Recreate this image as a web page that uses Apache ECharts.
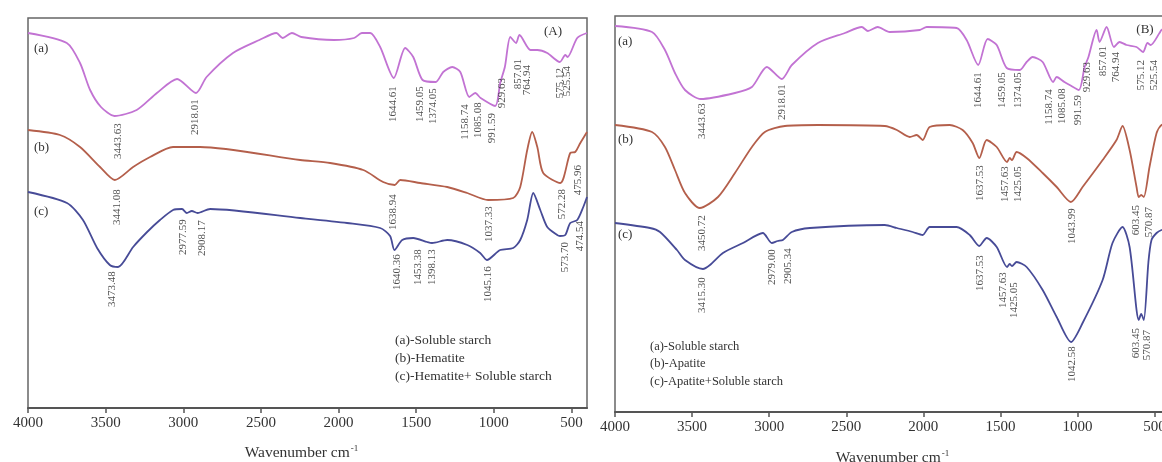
<!DOCTYPE html>
<html>
<head>
<meta charset="utf-8">
<script src="https://cdn.jsdelivr.net/npm/echarts@6/dist/echarts.min.js"></script>
<style>
  html, body { margin: 0; padding: 0; background: #fff; }
  #chart { width: 1162px; height: 462px; }
</style>
</head>
<body>
<div id="chart"></div>
<script>
// FTIR spectra, transmittance in arbitrary units, [wavenumber, value]
const starchA = [[4000,375],[3750,365],[3665,345],[3600,318],[3530,301],[3443,292],[3300,298],[3170,315],[3040,329],[2918,315],[2850,331],[2680,355],[2510,368],[2400,375],[2360,370],[2300,375],[2240,371],[2030,368],[1900,370],[1850,375],[1796,375],[1732,361],[1644,330],[1571,360],[1519,351],[1459,328],[1374,326],[1326,336],[1268,341],[1216,336],[1158,311],[1120,315],[1085,310],[991,302],[959,325],[929,341],[894,371],[857,365],[835,373],[764,358],[720,358],[656,355],[575,346],[540,353],[525,351],[463,370],[400,375]];
const hematite = [[4000,278],[3794,273],[3665,261],[3536,241],[3441,228],[3323,241],[3214,251],[3066,261],[2892,261],[2247,248],[2054,245],[1841,238],[1713,226],[1638,223],[1603,228],[1474,225],[1300,221],[1171,215],[1037,208],[875,210],[830,221],[785,258],[753,276],[720,261],[682,235],[572,225],[508,255],[476,256],[443,265],[400,276]];
const hematiteStarch = [[4000,216],[3749,205],[3646,188],[3555,160],[3473,143],[3420,141],[3323,161],[3233,176],[3150,188],[3066,198],[3008,199],[2977,195],[2945,197],[2908,195],[2827,199],[2247,190],[1945,185],[1732,180],[1668,172],[1640,158],[1590,168],[1519,170],[1429,166],[1398,165],[1300,168],[1171,163],[1088,155],[1045,148],[959,158],[875,160],[830,168],[785,188],[746,215],[701,198],[656,181],[592,173],[574,172],[540,173],[508,185],[463,188],[424,201],[400,211]];

const starchB = [[4000,386],[3760,380],[3676,362],[3611,339],[3546,322],[3443,313],[3222,319],[3112,325],[3015,345],[2918,333],[2853,347],[2684,369],[2509,379],[2399,385],[2360,381],[2296,385],[2218,380],[2023,382],[1978,385],[1784,384],[1719,372],[1644,347],[1583,373],[1524,367],[1459,344],[1374,342],[1330,350],[1291,355],[1226,350],[1158,330],[1135,335],[1085,330],[1051,327],[991,322],[954,345],[929,355],[876,382],[857,370],[811,385],[764,365],[727,370],[682,367],[617,365],[575,360],[546,369],[525,367],[468,379],[455,382],[400,388]];
const apatite = [[4000,287],[3760,280],[3676,265],[3611,242],[3546,219],[3450,204],[3332,215],[3222,239],[3112,265],[3028,280],[2898,286],[2684,287],[2250,286],[2172,282],[2088,275],[2043,277],[2004,272],[1959,285],[1829,287],[1745,282],[1680,269],[1637,254],[1589,272],[1524,265],[1457,250],[1440,254],[1425,252],[1395,260],[1330,254],[1226,239],[1135,225],[1043,210],[967,225],[837,252],[747,272],[708,286],[662,262],[617,225],[603,215],[587,217],[570,215],[533,245],[487,279],[455,287],[400,289]];
const apatiteStarch = [[4000,189],[3773,184],[3708,180],[3598,162],[3546,152],[3430,143],[3384,147],[3300,159],[3170,169],[3041,179],[2983,169],[2945,171],[2911,172],[2853,180],[2736,184],[2250,187],[2172,184],[2069,180],[2004,177],[1959,185],[1784,185],[1699,177],[1637,166],[1589,174],[1524,165],[1457,145],[1440,148],[1425,146],[1395,150],[1330,145],[1226,122],[1135,95],[1042,70],[967,89],[837,132],[773,169],[708,185],[662,165],[617,102],[603,92],[587,98],[570,92],[540,150],[520,172],[487,179],[455,182],[400,184]];

// peak labels: [text, wavenumber, value]
const peaksLeft = [
  ['3443.63',3420,267],['2918.01',2924,291],['1644.61',1648,304],['1459.05',1474,304],['1374.05',1390,302],
  ['1158.74',1184,286],['1085.08',1101,288],['991.59',1010,280],['929.63',946,315],['857.01',843,334],
  ['764.94',785,328],['575.12',572,325],['525.54',527,327],
  ['3441.08',3427,201],['1638.94',1648,196],['1037.33',1030,184],['572.28',559,204],['475.96',456,228],
  ['3473.48',3459,119],['2977.59',3001,171],['2908.17',2879,170],['1640.36',1622,136],['1453.38',1487,141],
  ['1398.13',1397,141],['1045.16',1036,124],['573.70',541,151],['474.54',443,172]
];
const peaksRight = [
  ['3443.63',3436,291],['2918.01',2918,310],['1644.61',1647,322],['1459.05',1492,322],['1374.05',1388,322],
  ['1158.74',1181,305],['1085.08',1097,306],['991.59',999,302],['929.63',935,335],['857.01',837,351],
  ['764.94',747,345],['575.12',585,337],['525.54',500,337],
  ['3450.72',3436,179],['1637.53',1634,229],['1457.63',1472,228],['1425.05',1388,228],['1043.99',1038,186],
  ['603.45',617,192],['570.87',533,190],
  ['3415.30',3436,117],['2979.00',2983,145],['2905.34',2879,146],['1637.53',1634,139],['1457.63',1485,122],
  ['1425.05',1408,112],['1042.58',1038,48],['603.45',617,69],['570.87',546,67]
];
const tickVals = [500,1000,1500,2000,2500,3000,3500,4000];

const colA = '#c273d3', colB = '#b45f4b', colC = '#474b97';
const serif = '"Liberation Serif", "DejaVu Serif", serif';

function xAx(idx, padRight, gap) {
  return {
    gridIndex: idx, type: 'value', inverse: true, min: 400, max: 4000,
    axisLine: { lineStyle: { color: '#555', width: 2 } },
    axisTick: { show: true, length: 5, customValues: tickVals, lineStyle: { color: '#555', width: 1.5 } },
    axisLabel: { customValues: tickVals, formatter: v => String(v), color: '#333', fontSize: 15, fontFamily: serif, margin: 8 },
    splitLine: { show: false },
    name: '{n|Wavenumber cm}{s|-1}', nameLocation: 'middle', nameGap: gap,
    nameTextStyle: { padding: [0, padRight, 0, 0],
      rich: { n: { fontSize: 15.5, fontFamily: serif, color: '#333' },
              s: { fontSize: 9, fontFamily: serif, color: '#333', verticalAlign: 'top', padding: [0, 0, 8, 1] } } }
  };
}
function yAx(idx, max) {
  return { gridIndex: idx, type: 'value', min: 0, max: max, show: false };
}
function line(data, color, idx) {
  return { type: 'line', xAxisIndex: idx, yAxisIndex: idx, data: data, showSymbol: false,
    smooth: 0.25, lineStyle: { color: color, width: 1.8 }, silent: true, z: 2 };
}
function peaks(list, idx) {
  return { type: 'scatter', xAxisIndex: idx, yAxisIndex: idx, symbolSize: 0, silent: true, z: 3,
    data: list.map(p => ({ name: p[0], value: [p[1], p[2]] })),
    label: { show: true, position: 'inside', rotate: 90, formatter: '{b}',
      fontSize: 11, fontFamily: serif, color: '#222' } };
}
function txt(x, y, s, size, align) {
  return { type: 'text', x: x, y: y, style: { text: s, fill: '#333', font: size + 'px ' + serif,
    textAlign: align || 'left', textVerticalAlign: 'middle' } };
}

const chart = echarts.init(document.getElementById('chart'));
chart.setOption({
  backgroundColor: '#fff',
  animation: false,
  grid: [
    { left: 28, top: 18, width: 559, height: 390, show: true, borderColor: '#666', borderWidth: 1.5, outerBoundsMode: 'none' },
    { left: 615, top: 16, width: 555, height: 396, show: true, borderColor: '#666', borderWidth: 1.5, outerBoundsMode: 'none' }
  ],
  xAxis: [xAx(0, 12, 36), xAx(1, 0, 37)],
  yAxis: [yAx(0, 390), yAx(1, 396)],
  series: [
    line(starchA, colA, 0), line(hematite, colB, 0), line(hematiteStarch, colC, 0),
    line(starchB, colA, 1), line(apatite, colB, 1), line(apatiteStarch, colC, 1),
    peaks(peaksLeft, 0), peaks(peaksRight, 1)
  ],
  graphic: [
    txt(34, 49, '(a)', 13), txt(34, 148, '(b)', 13), txt(34, 212, '(c)', 13),
    txt(553, 32, '(A)', 13, 'center'),
    txt(395, 340, '(a)-Soluble starch', 13.5), txt(395, 358, '(b)-Hematite', 13.5),
    txt(395, 376, '(c)-Hematite+ Soluble starch', 13.5),
    txt(618, 42, '(a)', 13), txt(618, 140, '(b)', 13), txt(618, 235, '(c)', 13),
    txt(1145, 30, '(B)', 13, 'center'),
    txt(650, 347, '(a)-Soluble starch', 12.5), txt(650, 364, '(b)-Apatite', 12.5),
    txt(650, 382, '(c)-Apatite+Soluble starch', 12.5)
  ]
});
</script>
</body>
</html>
